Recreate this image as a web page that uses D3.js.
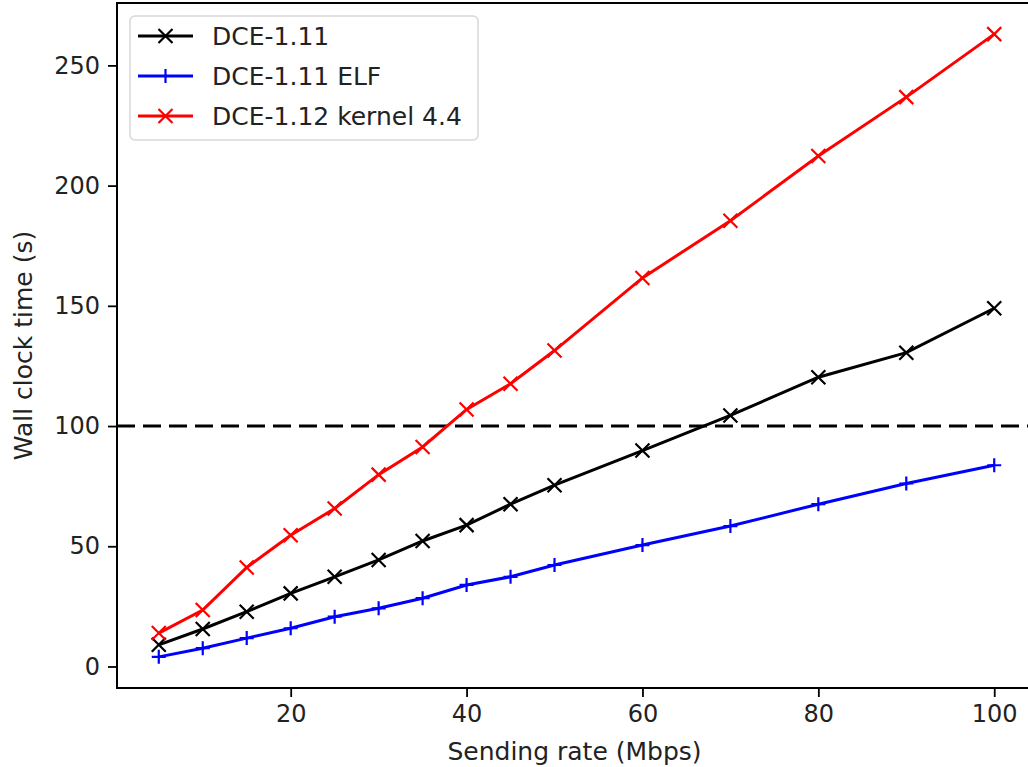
<!DOCTYPE html>
<html>
<head>
<meta charset="utf-8">
<script src="https://cdn.jsdelivr.net/npm/d3@7"></script>
<style>
  body { margin: 0; background: #fff; }
  text { font-family: "DejaVu Sans", sans-serif; fill: #222; }
</style>
</head>
<body>
<div id="chart"></div>
<script>
// data
var rates = [5, 10, 15, 20, 25, 30, 35, 40, 45, 50, 60, 70, 80, 90, 100];
var dce111 = [9, 15.6, 22.8, 30.4, 37.3, 44.3, 52.2, 58.8, 67.5, 75.4, 89.8, 104.4, 120.3, 130.5, 149];
var dce111elf = [4, 7.6, 11.8, 15.9, 20.7, 24.2, 28.4, 33.9, 37.3, 42.2, 50.5, 58.4, 67.5, 76.1, 83.7];
var dce112 = [13.9, 23.5, 41.2, 54.6, 65.7, 79.8, 91.3, 106.9, 117.6, 131.4, 161.6, 185.4, 212.3, 236.8, 263];
var seriesNames = ["DCE-1.11", "DCE-1.11 ELF", "DCE-1.12 kernel 4.4"];
var xTicks = [20, 40, 60, 80, 100];
var yTicks = [0, 50, 100, 150, 200, 250];
var limit = 100;

var svgW = 1028;
var svgH = 767;

var series = [
  { name: seriesNames[0], values: dce111, color: "#000000", marker: "x" },
  { name: seriesNames[1], values: dce111elf, color: "#0000ff", marker: "+" },
  { name: seriesNames[2], values: dce112, color: "#ff0000", marker: "x" }
];

var svg = d3.select("#chart")
  .append("svg")
  .attr("width", svgW)
  .attr("height", svgH);

// plot area in pixels
var area = { left: 117, right: 1036, top: 3, bottom: 688 };

var xScale = d3.scaleLinear()
  .domain([0.25, 104.75])
  .range([area.left, area.right]);

var yScale = d3.scaleLinear()
  .domain([-8.95, 275.95])
  .range([area.bottom, area.top]);

var plot = svg.append("g");

// dashed 100 s line
plot.append("line")
  .attr("x1", xScale(0.25))
  .attr("x2", xScale(104.75))
  .attr("y1", yScale(limit))
  .attr("y2", yScale(limit))
  .attr("stroke", "#000")
  .attr("stroke-width", 3)
  .attr("stroke-dasharray", "18,8");

var line = d3.line()
  .x((d, i) => xScale(rates[i]))
  .y(d => yScale(d));

function drawMarker(g, type, cx, cy, color) {
  var s = 7;
  var d = type === "x"
    ? `M${cx - s},${cy - s}L${cx + s},${cy + s}M${cx - s},${cy + s}L${cx + s},${cy - s}`
    : `M${cx - s},${cy}L${cx + s},${cy}M${cx},${cy - s}L${cx},${cy + s}`;
  g.append("path")
    .attr("d", d)
    .attr("stroke", color).attr("stroke-width", 2.2).attr("fill", "none");
}

series.forEach(function (s) {
  plot.append("path")
    .datum(s.values)
    .attr("d", line)
    .attr("fill", "none")
    .attr("stroke", s.color)
    .attr("stroke-width", 3);
  var mg = plot.append("g");
  s.values.forEach(function (v, i) {
    drawMarker(mg, s.marker, xScale(rates[i]), yScale(v), s.color);
  });
});

// axes
var bottomAxis = d3.axisBottom(xScale).tickValues(xTicks).tickSize(9).tickPadding(8).tickFormat(d3.format("d"));
var leftAxis = d3.axisLeft(yScale).tickValues(yTicks).tickSize(9).tickPadding(8).tickFormat(d3.format("d"));

var gx = svg.append("g")
  .attr("transform", `translate(0, ${area.bottom})`)
  .call(bottomAxis);
var gy = svg.append("g")
  .attr("transform", `translate(${area.left}, 0)`)
  .call(leftAxis);

[gx, gy].forEach(function (g) {
  g.select(".domain").remove();
  g.selectAll(".tick line").attr("stroke", "#000").attr("stroke-width", 1.8);
  g.selectAll(".tick text").attr("font-size", "24px").attr("fill", "#222");
});

// frame
svg.append("rect")
  .attr("x", area.left)
  .attr("y", area.top)
  .attr("width", area.right - area.left)
  .attr("height", area.bottom - area.top)
  .attr("fill", "none")
  .attr("stroke", "#000")
  .attr("stroke-width", 2);

// axis labels
svg.append("text")
  .attr("x", (area.left + area.right) / 2 - 2)
  .attr("y", 760)
  .attr("text-anchor", "middle")
  .attr("font-size", "25px")
  .text("Sending rate (Mbps)");

svg.append("text")
  .attr("transform", `translate(32, ${(area.top + area.bottom) / 2}) rotate(-90)`)
  .attr("text-anchor", "middle")
  .attr("font-size", "25px")
  .text("Wall clock time (s)");

// legend
var legend = svg.append("g");
legend.append("rect")
  .attr("x", 130)
  .attr("y", 16)
  .attr("width", 348)
  .attr("height", 124)
  .attr("rx", 5)
  .attr("fill", "#fff")
  .attr("fill-opacity", 0.8)
  .attr("stroke", "#d8d8d8")
  .attr("stroke-width", 1.5);

series.forEach(function (s, i) {
  var ly = 36 + i * 40;
  legend.append("line")
    .attr("x1", 138).attr("x2", 193)
    .attr("y1", ly).attr("y2", ly)
    .attr("stroke", s.color)
    .attr("stroke-width", 3);
  drawMarker(legend, s.marker, 165.5, ly, s.color);
  legend.append("text")
    .attr("x", 212)
    .attr("y", ly + 9)
    .attr("font-size", "25px")
    .text(s.name);
});
</script>
</body>
</html>
